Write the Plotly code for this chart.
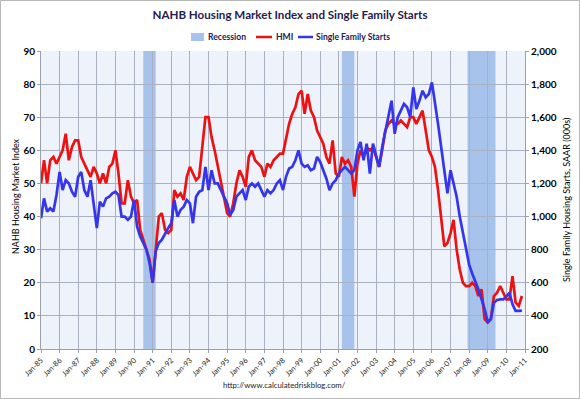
import plotly.graph_objects as go

# ---------------- data ----------------
years = list(range(1985, 2011))
months = [1, 3, 5, 7, 9, 11]
dates = [f"{y}-{m:02d}-01" for y in years for m in months]

hmi_values = [
    50, 57, 50, 57, 58, 56,   # 1985
    58, 60, 65, 57, 61, 63,   # 1986
    63, 58, 56, 54, 52, 55,   # 1987
    53, 50, 53, 50, 55, 56,   # 1988
    60, 53, 44, 44, 51, 46,   # 1989
    44, 45, 36, 33, 30, 27,   # 1990
    20, 30, 40, 41, 36, 35,   # 1991
    36, 48, 46, 47, 45, 52,   # 1992
    55, 53, 51, 52, 61, 70,   # 1993
    70, 64, 60, 55, 51, 46,   # 1994
    41, 40, 44, 50, 54, 52,   # 1995
    49, 58, 60, 57, 56, 55,   # 1996
    52, 56, 55, 57, 58, 59,   # 1997
    59, 64, 68, 71, 73, 77,   # 1998
    78, 71, 77, 72, 70, 66,   # 1999
    64, 62, 58, 56, 63, 53,   # 2000
    52, 58, 56, 57, 55, 46,   # 2001
    56, 60, 58, 61, 60, 61,   # 2002
    58, 55, 60, 66, 68, 69,   # 2003
    68, 68, 69, 68, 67, 70,   # 2004
    70, 68, 70, 72, 66, 60,   # 2005
    58, 55, 48, 39, 31, 32,   # 2006
    35, 39, 30, 24, 20, 19,   # 2007
    19, 20, 19, 16, 18, 9,    # 2008
    8, 9, 16, 17, 19, 17,     # 2009
    15, 15, 22, 14, 13, 16,   # 2010
]

starts_values = [
    990, 1110, 1030, 1050, 1030, 1130,     # 1985
    1270, 1160, 1220, 1200, 1150, 1120,    # 1986
    1240, 1270, 1160, 1120, 1220, 1060,    # 1987
    930, 1090, 1060, 1110, 1120, 1140,     # 1988
    1150, 1130, 1000, 1000, 980, 1000,     # 1989
    1100, 940, 880, 840, 800, 720,         # 1990
    600, 790, 840, 860, 900, 930,          # 1991
    960, 1100, 1000, 1040, 1060, 1100,     # 1992
    1080, 960, 1120, 1150, 1160, 1300,     # 1993
    1160, 1280, 1200, 1200, 1160, 1120,    # 1994
    1080, 1010, 1040, 1120, 1140, 1160,    # 1995
    1100, 1180, 1200, 1180, 1200, 1160,    # 1996
    1120, 1160, 1140, 1160, 1200, 1220,    # 1997
    1160, 1240, 1290, 1300, 1340, 1400,    # 1998
    1320, 1300, 1310, 1280, 1290, 1360,    # 1999
    1330, 1280, 1230, 1160, 1200, 1220,    # 2000
    1260, 1280, 1300, 1280, 1260, 1280,    # 2001
    1400, 1450, 1340, 1440, 1260, 1440,    # 2002
    1360, 1300, 1420, 1520, 1620, 1700,    # 2003
    1500, 1600, 1640, 1680, 1660, 1600,    # 2004
    1780, 1650, 1700, 1760, 1720, 1740,    # 2005
    1810, 1700, 1560, 1420, 1280, 1140,    # 2006
    1280, 1200, 1120, 1000, 900, 790,      # 2007
    710, 656, 610, 560, 500, 440,          # 2008
    364, 380, 480, 496, 500, 500,          # 2009
    516, 540, 470, 430, 430, 432,          # 2010
]

recession_starts = ["1990-07-01", "2001-03-01", "2007-12-01"]
recession_ends = ["1991-03-01", "2001-11-01", "2009-06-01"]

tick_years = list(range(1985, 2012))
tick_vals = [f"{y}-01-01" for y in tick_years]
tick_text = [f"Jan-{y % 100:02d}" for y in tick_years]

series_names = ["Recession", "HMI", "Single Family Starts"]
left_title = "NAHB Housing Market Index"
right_title = "Single Family Housing Starts, SAAR (000s)"

# ---------------- layout geometry ----------------
W, H = 580, 399
L, R, T, B = 41, 55, 51, 50
PW, PH = W - L - R, H - T - B

def px_x(x):
    return (x - L) / PW

def px_y(y):
    return (H - B - y) / PH

FONT = "Lato"
NAVY = "#1F2050"
REC_COLOR = "#A7C3EB"
RED = "#EE1111"
BLUE = "#3535EE"

fig = go.Figure()

fig.add_trace(go.Scatter(x=dates, y=hmi_values, name=series_names[1], mode="lines",
                         line=dict(color=RED, width=2.7), showlegend=False))
fig.add_trace(go.Scatter(x=dates, y=starts_values, name=series_names[2],
                         mode="lines", yaxis="y2", showlegend=False,
                         line=dict(color=BLUE, width=2.7)))

for s, e in zip(recession_starts, recession_ends):
    fig.add_shape(type="rect", xref="x", yref="paper", x0=s, x1=e, y0=0, y1=1,
                  fillcolor=REC_COLOR, line=dict(width=0), layer="below")

fig.update_layout(
    width=W, height=H,
    margin=dict(l=L, r=R, t=T, b=B),
    paper_bgcolor="white",
    plot_bgcolor="#EEF3FB",
    font=dict(family=FONT, color="black"),
    title=dict(text="<b>NAHB Housing Market Index and Single Family Starts</b>",
               x=290 / W, xanchor="center", y=1 - 15 / H, yanchor="middle",
               font=dict(size=11.6, color=NAVY, family=FONT)),
    showlegend=False,
    xaxis=dict(type="date", range=["1985-01-01", "2011-01-01"],
               tickmode="array", tickvals=tick_vals, ticktext=tick_text,
               tickangle=-45, tickfont=dict(size=7.5, color="#222222"),
               showgrid=True, gridcolor="#A9B0C0", gridwidth=1,
               showline=True, linecolor="#9AA0AA", ticks="outside",
               ticklen=3, tickcolor="#9AA0AA", zeroline=False),
    yaxis=dict(range=[0, 90], dtick=10, tick0=0,
               showgrid=True, gridcolor="#A9B0C0", gridwidth=1,
               showline=True, linecolor="#9AA0AA", ticks="outside",
               ticklen=3, tickcolor="#9AA0AA", zeroline=False,
               tickfont=dict(size=10, color="black", weight="bold")),
    yaxis2=dict(range=[200, 2000], dtick=200, tick0=200, overlaying="y",
                side="right", showgrid=False, tickformat=",",
                showline=True, linecolor="#9AA0AA", ticks="outside",
                ticklen=3, tickcolor="#9AA0AA", zeroline=False,
                tickfont=dict(size=10, color="black", weight="bold")),
)

# axis titles as rotated annotations
fig.add_annotation(text=left_title, xref="paper", yref="paper",
                   x=px_x(15), y=px_y(196), textangle=-90,
                   xanchor="center", yanchor="middle", showarrow=False,
                   font=dict(size=9, color="black", family=FONT))
fig.add_annotation(text=right_title, xref="paper", yref="paper",
                   x=px_x(566), y=px_y(200), textangle=-90,
                   xanchor="center", yanchor="middle", showarrow=False,
                   font=dict(size=9, color="black", family=FONT))

# ---------------- manual legend ----------------
LEG_Y = 37
fig.add_shape(type="rect", xref="paper", yref="paper",
              x0=px_x(191), x1=px_x(204), y0=px_y(41), y1=px_y(33),
              fillcolor=REC_COLOR, line=dict(width=0))
fig.add_shape(type="line", xref="paper", yref="paper",
              x0=px_x(256), x1=px_x(272), y0=px_y(LEG_Y), y1=px_y(LEG_Y),
              line=dict(color=RED, width=2.5))
fig.add_shape(type="line", xref="paper", yref="paper",
              x0=px_x(298), x1=px_x(313), y0=px_y(LEG_Y), y1=px_y(LEG_Y),
              line=dict(color=BLUE, width=2.5))
for name, xpx in zip(series_names, [206, 274, 314]):
    fig.add_annotation(text=f"<b>{name}</b>", xref="paper", yref="paper",
                       x=px_x(xpx), y=px_y(LEG_Y), xanchor="left",
                       yanchor="middle", showarrow=False,
                       font=dict(size=8.6, color=NAVY, family=FONT))

fig.add_annotation(text="http://www.calculatedriskblog.com/",
                   xref="paper", yref="paper", x=px_x(284), y=px_y(385),
                   xanchor="center", yanchor="middle", showarrow=False,
                   font=dict(size=7.8, color="#222222", family=FONT))

# outer border of the picture
fig.add_shape(type="rect", xref="paper", yref="paper",
              x0=px_x(0.5), x1=px_x(W - 0.5), y0=px_y(H - 0.5), y1=px_y(0.5),
              line=dict(color="#B8B8B8", width=1), fillcolor="rgba(0,0,0,0)",
              layer="above")

fig.write_html(
    "out.html",
    config={"displayModeBar": False},
    post_script="document.body.style.margin='0';document.body.style.padding='0';",
)
